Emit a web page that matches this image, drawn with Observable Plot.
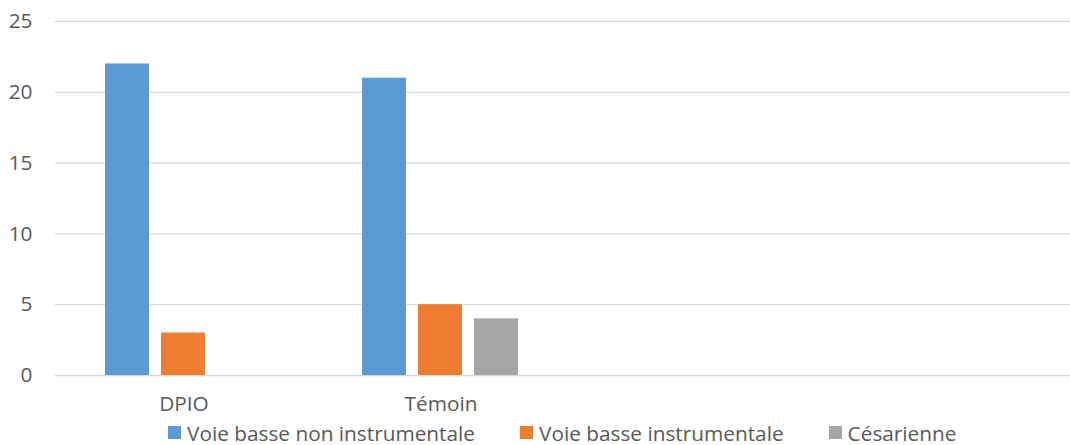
<!DOCTYPE html>
<html>
<head>
<meta charset="utf-8">
<script src="https://cdn.jsdelivr.net/npm/d3@7"></script>
<script src="https://cdn.jsdelivr.net/npm/@observablehq/plot@0.6"></script>
<style>
  html, body { margin: 0; padding: 0; background: #fff; }
  body { width: 1070px; height: 445px; overflow: hidden; font-family: "Open Sans", sans-serif; }
  #chart svg { display: block; overflow: hidden; }
  .legend { display: flex; gap: 45px; padding-left: 168px; height: 25px; align-items: center; font-size: 20.8px; color: #595959; margin-top: 0px; }
  .legend span.item { display: flex; align-items: center; white-space: nowrap; }
  .legend span.sw { display: inline-block; width: 13px; height: 13px; margin-right: 6px; }
</style>
</head>
<body>
<div id="chart"></div>
<div class="legend" id="legend"></div>
<script>
const categories = ["DPIO", "Témoin", " ", "  "];
const series = ["Voie basse non instrumentale", "Voie basse instrumentale", "Césarienne"];
const colors = ["#5B9BD5", "#ED7D31", "#A5A5A5"];
const valuesNonInstr = [22, 21, 0, 0];
const valuesInstr = [3, 5, 0, 0];
const valuesCesar = [0, 4, 0, 0];
const yTicks = [0, 5, 10, 15, 20, 25];

const seriesValues = [valuesNonInstr, valuesInstr, valuesCesar];
const data = [];
categories.forEach((c, i) => {
  series.forEach((s, j) => {
    data.push({cat: c, serie: s, value: seriesValues[j][i]});
  });
});

const chart = Plot.plot({
  width: 1070,
  height: 420,
  marginTop: 21,
  marginBottom: 45,
  marginLeft: 55,
  marginRight: 0,
  style: {fontFamily: "'Open Sans', sans-serif", fontSize: "20.8px", color: "#595959", background: "#fff"},
  fx: {domain: categories, range: [55, 1083], padding: 0, label: null},
  x: {domain: series, paddingInner: 0.21, paddingOuter: 0.86, axis: null},
  y: {domain: [0, 25], ticks: yTicks, label: null},
  color: {domain: series, range: colors},
  marks: [
    Plot.ruleY(yTicks, {stroke: "#D9D9D9", strokeWidth: 1.3}),
    Plot.barY(data, {x: "serie", y: "value", fill: "serie", fx: "cat"}),
    Plot.axisY({ticks: yTicks, tickSize: 0, tickPadding: 23, fontSize: 20.8, fill: "#595959", label: null}),
    Plot.axisFx({anchor: "bottom", tickSize: 0, tickPadding: 21, fontSize: 20.8, fill: "#595959", label: null})
  ]
});
document.getElementById("chart").appendChild(chart);

const lg = document.getElementById("legend");
series.forEach((s, i) => {
  const it = document.createElement("span");
  it.className = "item";
  const sw = document.createElement("span");
  sw.className = "sw";
  sw.style.background = colors[i];
  it.appendChild(sw);
  it.appendChild(document.createTextNode(s));
  lg.appendChild(it);
});
</script>
</body>
</html>
